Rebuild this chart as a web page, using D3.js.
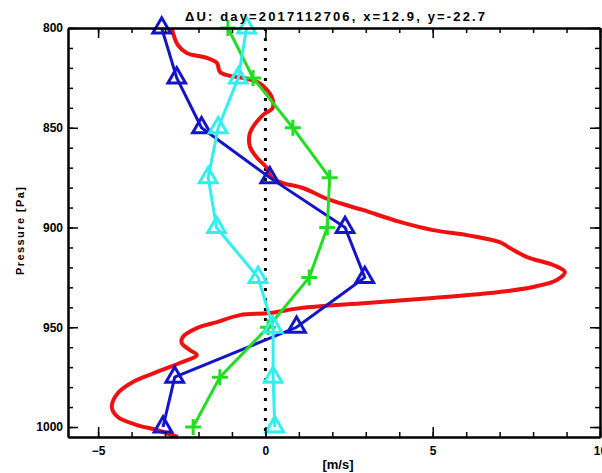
<!DOCTYPE html>
<html>
<head>
<meta charset="utf-8">
<script src="https://cdn.jsdelivr.net/npm/d3@7"></script>
<style>
  body { margin: 0; background: #fff; }
  svg { display: block; font-family: "Liberation Sans", Arial, sans-serif; font-weight: bold; }
  .axis path, .axis line { stroke: #000; }
  .axis text { fill: #000; font-size: 12px; font-weight: bold; }
</style>
</head>
<body>
<div id="graf"></div>
<script>
// niveles de presion de los marcadores
const levels = [800, 825, 850, 875, 900, 925, 950, 975, 1000]
// valores de cada serie (m/s)
const blueU = [-3.10, -2.65, -1.91, 0.13, 2.38, 2.97, 0.93, -2.71, -3.06]
const greenU = [-1.12, -0.37, 0.82, 1.92, 1.85, 1.31, 0.08, -1.36, -2.16]
const cyanU = [-0.56, -0.81, -1.41, -1.71, -1.46, -0.22, 0.23, 0.23, 0.28]
// perfil continuo (rojo)
const redP = [800, 808.5, 812.5, 815, 817.5, 822, 824, 825, 827, 830, 834.6, 840, 844, 852.6, 859.6, 865, 870, 875,
  877.7, 880.2, 886.2, 891.2, 897.2, 901.3, 903.8, 907.3, 910.3, 914.8, 918.8, 922.3, 926.3, 929.8, 932.3, 935.3,
  937.8, 940.4, 942.9, 943.9, 947.4, 950.4, 954.9, 957.9, 961.4, 963.9, 967.9, 972.4, 977.4, 983, 990, 995, 999, 1001.5, 1005]
const redU = [-2.80, -2.62, -2.35, -1.75, -1.45, -1.36, -1.06, -0.67, -0.25, -0.01, 0.19, 0.22, -0.10, -0.46, -0.46, -0.25, 0.04, 0.19,
  0.52, 1.12, 1.93, 2.91, 4.02, 5.01, 6.02, 7.0, 7.31, 7.82, 8.60, 8.95, 8.71, 8.0, 7.0, 5.01,
  3.03, 1.03, 0.13, -0.76, -1.45, -2.05, -2.47, -2.50, -2.26, -2.05, -2.56, -3.24, -3.96, -4.41, -4.59, -4.41, -3.84, -3.24, -2.62]

const xMajor = [-5, 0, 5, 10]
const yMajor = [800, 850, 900, 950, 1000]

const title = "\u0394U: day=2017112706, x=12.9, y=-22.7"

const svg = d3.select("#graf")
  .append("svg")
  .attr("width", 602)
  .attr("height", 473)

const box = { left: 68, right: 600, top: 28, bottom: 437 }

const x = d3.scaleLinear().domain([-5.9, 10]).range([box.left, box.right])
const y = d3.scaleLinear().domain([800, 1005]).range([box.top, box.bottom])

const plot = svg.append("g")

// linea punteada en cero
plot.append("line")
  .attr("x1", x(0)).attr("x2", x(0))
  .attr("y1", y(800)).attr("y2", y(1005))
  .attr("stroke", "#000")
  .attr("stroke-width", 3)
  .attr("stroke-dasharray", "3,7")

const line = d3.line().x(d => x(d[0])).y(d => y(d[1]))

// rojo
plot.append("path")
  .datum(d3.zip(redU, redP))
  .attr("fill", "none")
  .attr("stroke", "#ee1111")
  .attr("stroke-width", 4)
  .attr("d", line.curve(d3.curveCatmullRom))

line.curve(d3.curveLinear)

const tri = d3.symbol(d3.symbolTriangle, 135)
const plus = "M-8,0H8M0,-8V8"

const series = [
  { u: blueU, color: "#1414c8", mark: "tri" },
  { u: greenU, color: "#22dd22", mark: "plus" },
  { u: cyanU, color: "#33eeee", mark: "tri" },
]

series.forEach(s => {
  const pts = d3.zip(s.u, levels)
  plot.append("path")
    .datum(pts)
    .attr("fill", "none")
    .attr("stroke", s.color)
    .attr("stroke-width", 3)
    .attr("d", line)
  plot.selectAll(null)
    .data(pts)
    .enter()
    .append("path")
    .attr("transform", d => `translate(${x(d[0])},${y(d[1])})`)
    .attr("d", s.mark === "tri" ? tri() : plus)
    .attr("fill", "none")
    .attr("stroke", s.color)
    .attr("stroke-width", 3)
})

// ejes
const xMinor = d3.range(-5, 11, 1)
const yMinor = d3.range(800, 1001, 10)

function addAxis(axis, tf, major, minor, labels) {
  const gMin = svg.append("g").attr("class", "axis").attr("transform", tf)
    .call(axis.tickValues(minor).tickSizeInner(-5).tickSizeOuter(0).tickFormat(() => ""))
  gMin.selectAll("line").attr("stroke-width", 1.5)
  gMin.select(".domain").attr("stroke-width", 2)
  const gMaj = svg.append("g").attr("class", "axis").attr("transform", tf)
    .call(axis.tickValues(major).tickSizeInner(-10).tickSizeOuter(0).tickFormat(labels ? d3.format("d") : () => ""))
  gMaj.selectAll("line").attr("stroke-width", 1.5)
  gMaj.select(".domain").attr("stroke-width", 2)
  return gMaj
}

const gx = addAxis(d3.axisBottom(x).tickPadding(9), `translate(0,${box.bottom})`, xMajor, xMinor, true)
gx.selectAll("text").text(d => d < 0 ? "\u2212" + Math.abs(d) : d)
addAxis(d3.axisTop(x), `translate(0,${box.top})`, xMajor, xMinor, false)
addAxis(d3.axisLeft(y).tickPadding(5), `translate(${box.left},0)`, yMajor, yMinor, true)
addAxis(d3.axisRight(y), `translate(${box.right},0)`, yMajor, yMinor, false)

// titulos
svg.append("text")
  .attr("x", 335).attr("y", 21)
  .attr("text-anchor", "middle")
  .attr("font-size", 13)
  .attr("textLength", 300)
  .text(title)

svg.append("text")
  .attr("x", 338).attr("y", 469)
  .attr("text-anchor", "middle")
  .attr("font-size", 13)
  .text("[m/s]")

svg.append("text")
  .attr("transform", "translate(24,231) rotate(-90)")
  .attr("text-anchor", "middle")
  .attr("font-size", 11)
  .attr("textLength", 88)
  .text("Pressure [Pa]")
</script>
</body>
</html>
